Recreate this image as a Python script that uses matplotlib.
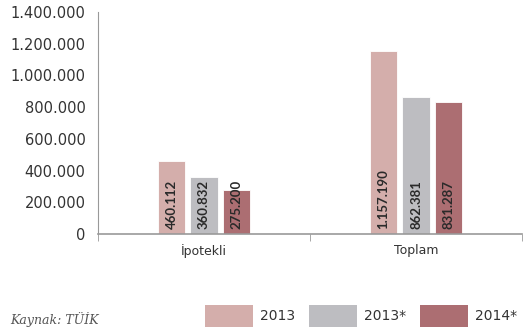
import numpy as np
import matplotlib.pyplot as plt
from matplotlib.patches import Patch
from matplotlib.ticker import FuncFormatter

categories = ['İpotekli', 'Toplam']
series = ['2013', '2013*', '2014*']
values = {
    '2013': [460112, 1157190],
    '2013*': [360832, 862381],
    '2014*': [275200, 831287],
}
colors = ['#d4aeab', '#bdbdc1', '#ac6e72']


def dotted(v, pos=None):
    return f'{int(v):,}'.replace(',', '.')


fig = plt.figure(figsize=(5.27, 3.33), dpi=100)
ax = fig.add_axes([0.186, 0.297, 0.8045, 0.667])

x = np.arange(len(categories))
width = 0.13
step = 0.153
for i, name in enumerate(series):
    pos = x + (i - 1) * step
    ax.bar(pos, values[name], width=width, color=colors[i], edgecolor='white', linewidth=0.6)
    for px, v in zip(pos, values[name]):
        ax.text(px, 35000, dotted(v), rotation=90, ha='center', va='bottom',
                fontsize=9.5, color='#2a2a2a', family='Lato', fontweight='bold')

ax.set_xlim(-0.5, 1.5)
ax.set_ylim(0, 1400000)
ax.set_yticks(np.arange(0, 1400001, 200000))
ax.yaxis.set_major_formatter(FuncFormatter(dotted))
ax.tick_params(axis='y', length=0, pad=9, labelsize=10.5, labelcolor='#333333')

ax.set_xticks(x)
ax.set_xticklabels(categories, fontsize=9, color='#333333')
ax.set_xticks([-0.5, 0.5, 1.5], minor=True)
ax.tick_params(axis='x', which='major', length=0, pad=7)
ax.tick_params(axis='x', which='minor', length=5, color='#999999', direction='out')

for side in ['top', 'right']:
    ax.spines[side].set_visible(False)
ax.spines['left'].set_color('#999999')
ax.spines['bottom'].set_color('#999999')
ax.spines['bottom'].set_linewidth(1.2)

handles = [Patch(facecolor=c, edgecolor='none', label=s) for c, s in zip(colors, series)]
fig.legend(handles=handles, loc='center left', bbox_to_anchor=(0.389, 0.051), ncol=3,
           frameon=False, fontsize=10, handlelength=3.45, handleheight=2.0,
           handletextpad=0.5, columnspacing=1.0, borderpad=0, borderaxespad=0,
           labelcolor='#333333')

fig.text(0.02, 0.04, 'Kaynak: TÜİK', fontsize=9, style='italic', family='DejaVu Serif',
         color='#555555', va='center')

fig.savefig('out.png', dpi=100)
